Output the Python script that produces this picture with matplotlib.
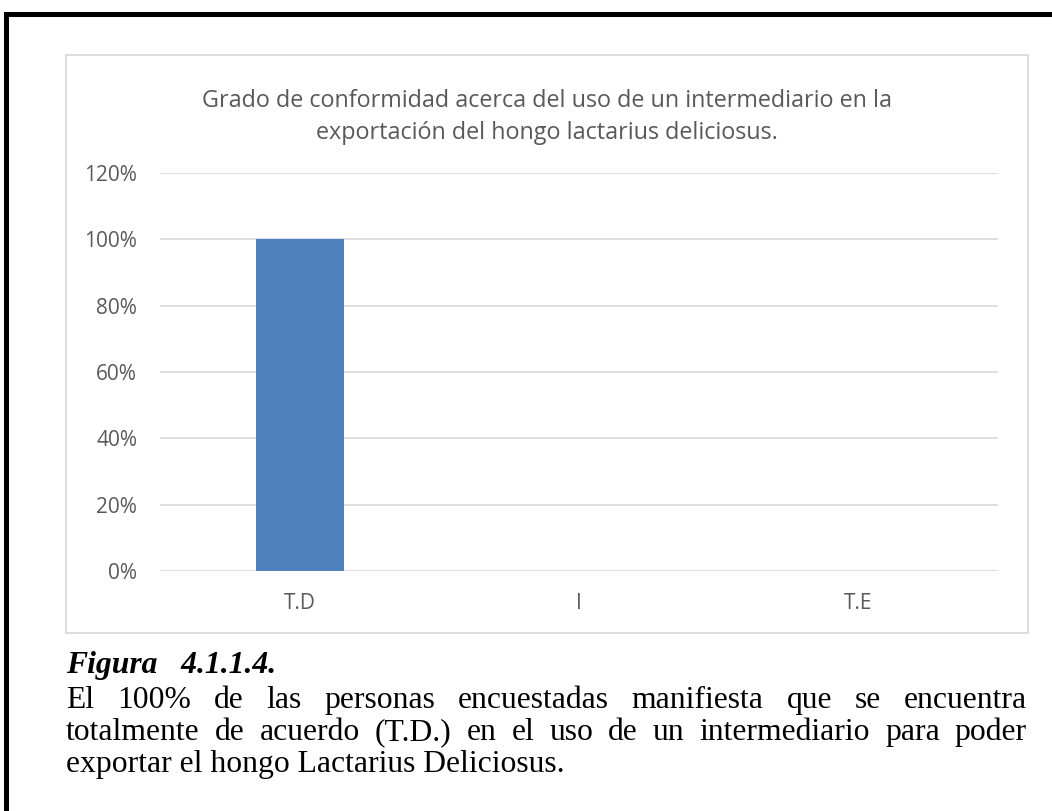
import matplotlib
matplotlib.use("Agg")
import matplotlib.pyplot as plt
from matplotlib.patches import Rectangle
from matplotlib.lines import Line2D
from matplotlib.ticker import FuncFormatter

categories = ["T.D", "I", "T.E"]
values = [1.0, 0.0, 0.0]
yticks = [0, 0.2, 0.4, 0.6, 0.8, 1.0, 1.2]

title = ("Grado de conformidad acerca del uso de un intermediario en la\n"
         "exportación del hongo lactarius deliciosus.")
caption_head = "Figura   4.1.1.4."
caption_lines = [
    "El 100% de las personas encuestadas manifiesta que se encuentra",
    "totalmente de acuerdo (T.D.) en el uso de un intermediario para poder",
    "exportar el hongo Lactarius Deliciosus.",
]

W, H = 1052, 811
fig = plt.figure(figsize=(W / 100, H / 100), dpi=100)
fig.patch.set_facecolor("white")


def fx(px):
    return px / W


def fy(py):
    return 1 - py / H


gray = "#595959"
grid = "#d9d9d9"

# page border (top + left only)
fig.add_artist(Line2D([fx(6), 1], [fy(14), fy(14)], color="black", lw=3.6))
fig.add_artist(Line2D([fx(6), fx(6)], [fy(14), 0], color="black", lw=3.6))

# chart box
fig.add_artist(Rectangle((fx(66), fy(633)), fx(1028) - fx(66), fy(55) - fy(633),
                         fill=False, edgecolor=grid, lw=1.3))

ax = fig.add_axes([fx(160), fy(571), fx(998) - fx(160), fy(173) - fy(571)])
x = range(len(categories))
ax.bar(x, values, width=0.315, color="#4f81bd", zorder=3)
ax.set_xlim(-0.5, 2.5)
ax.set_ylim(0, 1.2)
ax.set_yticks(yticks)
ax.yaxis.set_major_formatter(FuncFormatter(lambda v, p: f"{v * 100:.0f}%"))
ax.set_xticks(list(x))
ax.set_xticklabels(categories)
ax.grid(axis="y", color=grid, lw=1.2, zorder=0)
for s in ax.spines.values():
    s.set_visible(False)
ax.tick_params(length=0, labelsize=15, labelcolor=gray)
ax.tick_params(axis="y", pad=16.5)
ax.tick_params(axis="x", pad=16)
for lab in ax.get_xticklabels() + ax.get_yticklabels():
    lab.set_fontfamily("Open Sans")

fig.text(fx(547), fy(117), title, ha="center", va="center", fontsize=16.8,
         color=gray, family="Open Sans", linespacing=1.45)

# caption
fs = 22.8
fig.text(fx(66), fy(673), caption_head, ha="left", va="baseline", fontsize=fs,
         family="Liberation Serif", weight="bold", style="italic", color="black")

renderer = fig.canvas.get_renderer()
baselines = [708, 740, 772]
left, right = 66, 1027
for i, line in enumerate(caption_lines):
    words = line.split(" ")
    if i == len(caption_lines) - 1:
        fig.text(fx(left), fy(baselines[i]), line, ha="left", va="baseline",
                 fontsize=fs, family="Liberation Serif", color="black")
        continue
    texts = [fig.text(0, fy(baselines[i]), w, ha="left", va="baseline",
                      fontsize=fs, family="Liberation Serif", color="black")
             for w in words]
    widths = [t.get_window_extent(renderer).width for t in texts]
    gap = (right - left - sum(widths)) / (len(words) - 1)
    pos = left
    for t, w in zip(texts, widths):
        t.set_x(fx(pos))
        pos += w + gap

fig.savefig("out.png", dpi=100)
